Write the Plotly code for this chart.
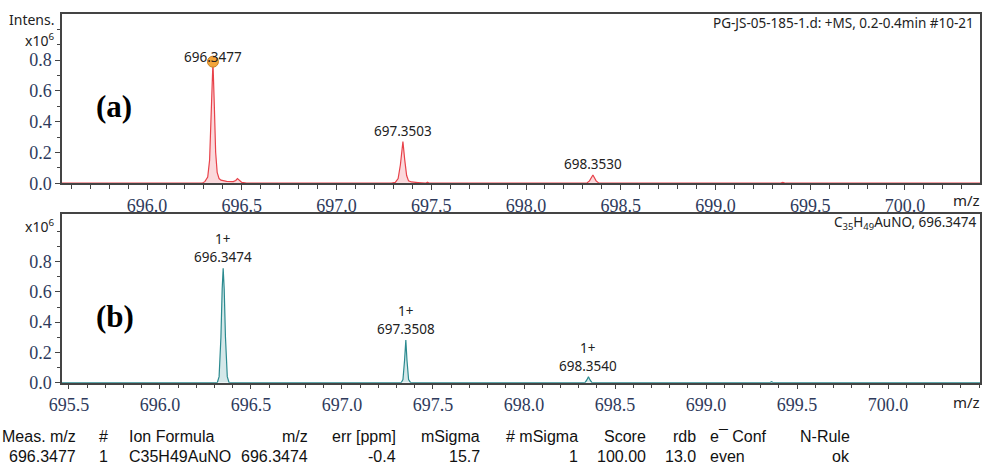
import plotly.graph_objects as go

# ---------------- data ----------------
# measured spectrum (panel a), intensity in x10^6
meas_mz = [695.55, 696.29, 696.305, 696.32, 696.33, 696.338, 696.3477, 696.355, 696.362,
           696.37, 696.38, 696.39, 696.42, 696.455, 696.468, 696.477, 696.488, 696.50, 696.525,
           697.29, 697.31, 697.325, 697.337, 697.3503, 697.36, 697.37, 697.38, 697.395, 697.43,
           697.47, 697.48, 697.49, 697.50,
           698.32, 698.335, 698.3530, 698.37, 698.385,
           699.34, 699.355, 699.37, 700.40]
meas_int = [0, 0, 0.01, 0.04, 0.15, 0.45, 0.79, 0.50, 0.20,
            0.07, 0.03, 0.02, 0.012, 0.01, 0.018, 0.03, 0.015, 0.005, 0,
            0, 0.005, 0.03, 0.12, 0.27, 0.15, 0.05, 0.015, 0.008, 0.004,
            0, 0.006, 0, 0,
            0, 0.015, 0.053, 0.015, 0,
            0, 0.006, 0, 0]

# simulated isotope pattern (panel b)
sim_mz = [695.46, 696.315, 696.325, 696.335, 696.342, 696.3474, 696.353, 696.36, 696.37, 696.38,
          697.325, 697.335, 697.344, 697.3508, 697.357, 697.366, 697.377,
          698.335, 698.346, 698.3540, 698.362, 698.373,
          699.35, 699.36, 699.37, 700.51]
sim_int = [0, 0, 0.04, 0.30, 0.62, 0.756, 0.62, 0.30, 0.04, 0,
           0, 0.02, 0.15, 0.282, 0.15, 0.02, 0,
           0, 0.02, 0.04, 0.02, 0,
           0, 0.006, 0, 0]

meas_peak_mz = [696.3477, 697.3503, 698.3530]
meas_peak_int = [0.79, 0.27, 0.053]
meas_peak_text = ["696.3477", "697.3503", "698.3530"]

sim_peak_mz = [696.3474, 697.3508, 698.3540]
sim_peak_int = [0.756, 0.282, 0.04]
sim_peak_text = ["1+<br>696.3474", "1+<br>697.3508", "1+<br>698.3540"]

x_ticks_top = [696.0, 696.5, 697.0, 697.5, 698.0, 698.5, 699.0, 699.5, 700.0]
x_ticks_bot = [695.5, 696.0, 696.5, 697.0, 697.5, 698.0, 698.5, 699.0, 699.5, 700.0]
y_ticks = [0.0, 0.2, 0.4, 0.6, 0.8]
y_minor = [0.1, 0.3, 0.5, 0.7, 0.9, 1.0]

table_headers = ["Meas. m/z", "#", "Ion Formula", "m/z", "err [ppm]", "mSigma",
                 "# mSigma", "Score", "rdb", "e\u00af Conf", "N-Rule"]
table_values = ["696.3477", "1", "C35H49AuNO", "696.3474", "-0.4", "15.7",
                "1", "100.00", "13.0", "even", "ok"]

# ---------------- figure ----------------
W, H = 982, 465
def px(x):
    return x / W
def py(y):
    return 1 - y / H

AX = "#444444"
TICKC = "#2e3a5c"
tickfont = dict(family="Liberation Serif", size=18, color=TICKC)
labfont = dict(family="Noto Sans", size=13.5, color="#222222")

fig = go.Figure()
fig.add_trace(go.Scatter(x=meas_mz, y=meas_int, mode="lines", fill="tozeroy",
                         line=dict(color="#e8424a", width=1.2),
                         fillcolor="rgba(240,120,130,0.28)", xaxis="x", yaxis="y",
                         hoverinfo="skip"))
fig.add_trace(go.Scatter(x=[meas_peak_mz[0]], y=[meas_peak_int[0]], mode="markers",
                         marker=dict(size=11, color="#f3a53a", line=dict(color="#c88428", width=1)),
                         xaxis="x", yaxis="y", hoverinfo="skip"))
fig.add_trace(go.Scatter(x=sim_mz, y=sim_int, mode="lines", fill="tozeroy",
                         line=dict(color="#2b8a8f", width=1.2),
                         fillcolor="rgba(43,138,143,0.2)", xaxis="x2", yaxis="y2",
                         hoverinfo="skip"))

def xaxis(domain, rng, ticks, anchor):
    return dict(domain=domain, range=rng, anchor=anchor, tickmode="array", tickvals=ticks,
                ticktext=[f"{v:.1f}" for v in ticks], ticks="outside", ticklen=5,
                tickcolor=AX, tickwidth=1, showline=True, linecolor=AX, linewidth=1.5,
                mirror=True, showgrid=False, zeroline=False, tickfont=tickfont,
                automargin=False,
                minor=dict(dtick=0.1, tick0=695.5, ticks="outside", ticklen=4, tickcolor=AX))

def yaxis(domain, rng, anchor):
    return dict(domain=domain, range=rng, anchor=anchor, tickmode="array", tickvals=y_ticks,
                ticktext=[f"{v:.1f}" for v in y_ticks], ticks="outside", ticklen=5,
                tickcolor=AX, tickwidth=1, showline=True, linecolor=AX, linewidth=1.5,
                mirror=True, showgrid=False, zeroline=False, tickfont=tickfont,
                automargin=False,
                minor=dict(tickmode="array", tickvals=y_minor, ticks="outside", ticklen=3,
                           tickcolor=AX))

xd = [px(62), px(980)]
fig.update_layout(
    width=W, height=H, margin=dict(l=0, r=0, t=0, b=0, autoexpand=False),
    paper_bgcolor="white", plot_bgcolor="white", showlegend=False,
    xaxis=xaxis(xd, [695.551, 700.396], x_ticks_top, "y"),
    yaxis=yaxis([py(183.2), py(13.5)], [0, 1.103], "x"),
    xaxis2=xaxis(xd, [695.462, 700.505], x_ticks_bot, "y2"),
    yaxis2=yaxis([py(382.7), py(214.3)], [0, 1.113], "x2"),
)

ann = []
# peak labels
shifts = [-6, 0, 0]
for m, v, t, s in zip(meas_peak_mz, meas_peak_int, meas_peak_text, shifts):
    ann.append(dict(x=m, y=v, xref="x", yref="y", text=t, showarrow=False,
                    yanchor="bottom", yshift=s, font=dict(family="Noto Sans", size=13.5, color="#222")))
for m, v, t in zip(sim_peak_mz, sim_peak_int, sim_peak_text):
    ann.append(dict(x=m, y=v, xref="x2", yref="y2", text=t, showarrow=False,
                    yanchor="bottom", yshift=0, font=dict(family="Noto Sans", size=13.5, color="#222")))

# corner texts
ann.append(dict(x=px(976), y=py(23), xref="paper", yref="paper", xanchor="right", yanchor="middle",
                text="PG-JS-05-185-1.d: +MS, 0.2-0.4min #10-21", showarrow=False, font=labfont))
ann.append(dict(x=px(978), y=py(223), xref="paper", yref="paper", xanchor="right", yanchor="middle",
                text="C<sub>35</sub>H<sub>49</sub>AuNO, 696.3474", showarrow=False, font=labfont))
ann.append(dict(x=px(56), y=py(20), xref="paper", yref="paper", xanchor="right", yanchor="middle",
                text="Intens.", showarrow=False, font=dict(family="Noto Sans", size=14, color="#222")))
ann.append(dict(x=px(56), y=py(40), xref="paper", yref="paper", xanchor="right", yanchor="middle",
                text="x10<sup>6</sup>", showarrow=False, font=dict(family="Noto Sans", size=14, color="#222")))
ann.append(dict(x=px(56), y=py(226), xref="paper", yref="paper", xanchor="right", yanchor="middle",
                text="x10<sup>6</sup>", showarrow=False, font=dict(family="Noto Sans", size=14, color="#222")))
for yy in (200, 402):
    ann.append(dict(x=px(966), y=py(yy), xref="paper", yref="paper", xanchor="center", yanchor="middle",
                    text="m/z", showarrow=False, font=dict(family="Noto Sans", size=15, color="#222")))
# panel letters
ann.append(dict(x=px(114), y=py(106), xref="paper", yref="paper", xanchor="center", yanchor="middle",
                text="<b>(a)</b>", showarrow=False, font=dict(family="Liberation Serif", size=31, color="black")))
ann.append(dict(x=px(115), y=py(316), xref="paper", yref="paper", xanchor="center", yanchor="middle",
                text="<b>(b)</b>", showarrow=False, font=dict(family="Liberation Serif", size=31, color="black")))

# results table
col_x = [78, 103, 127, 310, 398, 482, 580, 648, 698, 708, 852]
col_anchor = ["right", "center", "left", "right", "right", "right", "right", "right", "right", "left", "right"]
tfont = dict(family="Liberation Sans", size=16, color="#111")
for cx, ca, hdr, val in zip(col_x, col_anchor, table_headers, table_values):
    ann.append(dict(x=px(cx), y=py(436), xref="paper", yref="paper", xanchor=ca, yanchor="middle",
                    text=hdr, showarrow=False, font=tfont))
    ann.append(dict(x=px(cx), y=py(456), xref="paper", yref="paper", xanchor=ca, yanchor="middle",
                    text=val, showarrow=False, font=tfont))

fig.update_layout(annotations=ann)
fig.write_html("out.html", config={"displayModeBar": False},
               post_script="document.body.style.margin='0';document.body.style.overflow='hidden';")
